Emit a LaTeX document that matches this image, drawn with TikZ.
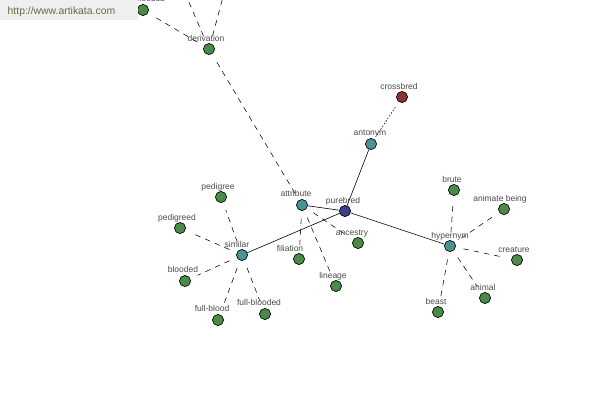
\documentclass[tikz,border=0pt]{standalone}
\usepackage{fontspec}
\setmainfont{Liberation Sans}
\definecolor{leaf}{HTML}{4C8A48}
\definecolor{mid}{HTML}{4A9494}
\definecolor{root}{HTML}{3C3F8C}
\definecolor{anti}{HTML}{8C3434}
\definecolor{txt}{HTML}{4A4A4A}
\definecolor{wm}{HTML}{5E6E3C}
\definecolor{wmbg}{HTML}{EFEFEF}
\tikzset{
  dot/.style={circle,draw=black,line width=0.5pt,minimum size=11pt,inner sep=0pt},
  lf/.style={dot,fill=leaf},
  md/.style={dot,fill=mid},
  rt/.style={dot,fill=root},
  an/.style={dot,fill=anti},
  lbl/.style={font=\fontsize{8.5}{9}\selectfont,text=txt,inner sep=0pt,anchor=base},
  solidlink/.style={line width=0.6pt},
  dlink/.style={line width=0.55pt,dash pattern=on 5.5pt off 5pt,shorten <=8pt,shorten >=8pt},
  dotlink/.style={line width=0.55pt,dash pattern=on 1.6pt off 1.6pt,shorten <=5pt,shorten >=5pt},
}
\begin{document}
\begin{tikzpicture}[x=1pt,y=-1pt]
\useasboundingbox (0,0) rectangle (600,400);
\clip (0,0) rectangle (600,400);
% nodes
\node[lf] (fb0) at (143,10) {};
\node[lf] (deriv) at (209,49) {};
\coordinate (up1) at (171,-40);
\coordinate (up2) at (233,-40);
\node[rt] (pure) at (345,211) {};
\node[md] (anto) at (371,144) {};
\node[an] (cross) at (402,97) {};
\node[md] (attr) at (302,205) {};
\node[md] (sim) at (242,255) {};
\node[md] (hyp) at (450,246) {};
\node[lf] (fil) at (299,259) {};
\node[lf] (lin) at (336,286) {};
\node[lf] (anc) at (358,243) {};
\node[lf] (ped) at (221,197) {};
\node[lf] (pedd) at (180,228) {};
\node[lf] (blo) at (185,281) {};
\node[lf] (fbl) at (218,320) {};
\node[lf] (fbd) at (265,314) {};
\node[lf] (bru) at (454,190) {};
\node[lf] (ani) at (504,209) {};
\node[lf] (cre) at (517,260) {};
\node[lf] (anm) at (485,298) {};
\node[lf] (bea) at (438,312) {};
% links
\draw[solidlink] (pure) -- (anto);
\draw[solidlink] (pure) -- (attr);
\draw[solidlink] (pure) -- (sim);
\draw[solidlink] (pure) -- (hyp);
\draw[dotlink] (anto) -- (cross);
\draw[dlink] (attr) -- (deriv);
\draw[dlink] (deriv) -- (fb0);
\draw[dlink] (deriv) -- (up1);
\draw[dlink] (deriv) -- (up2);
\draw[dlink] (attr) -- (fil);
\draw[dlink] (attr) -- (lin);
\draw[dlink] (attr) -- (anc);
\draw[dlink] (sim) -- (ped);
\draw[dlink] (sim) -- (pedd);
\draw[dlink] (sim) -- (blo);
\draw[dlink] (sim) -- (fbl);
\draw[dlink] (sim) -- (fbd);
\draw[dlink] (hyp) -- (bru);
\draw[dlink] (hyp) -- (ani);
\draw[dlink] (hyp) -- (cre);
\draw[dlink] (hyp) -- (anm);
\draw[dlink] (hyp) -- (bea);
% redraw nodes on top
\foreach \n/\s in {fb0/lf,deriv/lf,pure/rt,anto/md,cross/an,attr/md,sim/md,hyp/md,fil/lf,lin/lf,anc/lf,ped/lf,pedd/lf,blo/lf,fbl/lf,fbd/lf,bru/lf,ani/lf,cre/lf,anm/lf,bea/lf}
  \node[\s] at (\n) {};
% labels
\node[lbl] (l0) at (143,1) {full-blooded};
\node[lbl] (l1) at (206,41) {derivation};
\node[lbl] (l2) at (343,203) {purebred};
\node[lbl] (l3) at (370,135) {antonym};
\node[lbl] (l4) at (399,89) {crossbred};
\node[lbl] (l5) at (296,196) {attribute};
\node[lbl] (l6) at (237,247) {similar};
\node[lbl] (l7) at (450,238) {hypernym};
\node[lbl] (l8) at (290,251) {filiation};
\node[lbl] (l9) at (333,278) {lineage};
\node[lbl] (l10) at (352,235) {ancestry};
\node[lbl] (l11) at (218,189) {pedigree};
\node[lbl] (l12) at (177,220) {pedigreed};
\node[lbl] (l13) at (183,272) {blooded};
\node[lbl] (l14) at (212,311) {full-blood};
\node[lbl] (l15) at (259,305) {full-blooded};
\node[lbl] (l16) at (452,182) {brute};
\node[lbl] (l17) at (500,201) {animate being};
\node[lbl] (l18) at (514,252) {creature};
\node[lbl] (l19) at (483,290) {animal};
\node[lbl] (l20) at (436,304) {beast};
% watermark
\fill[wmbg] (0,0) rectangle (138,20);
\node[font=\fontsize{10.4}{12}\selectfont,text=wm,anchor=base west,inner sep=0pt] (wmk) at (7.5,14.5) {http://www.artikata.com};
\end{tikzpicture}
\end{document}
